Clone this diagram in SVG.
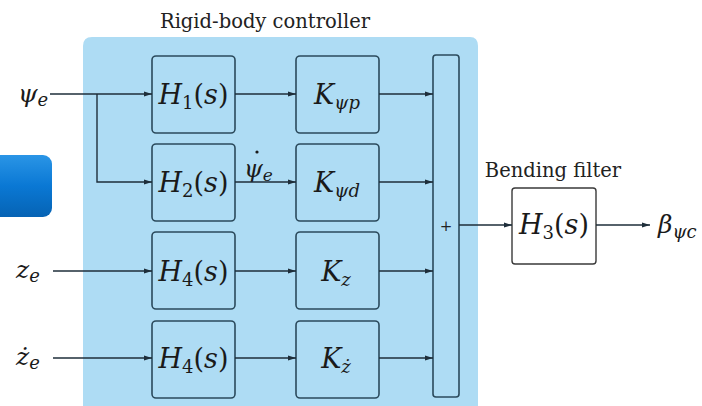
<svg xmlns="http://www.w3.org/2000/svg" width="702" height="406" viewBox="0 0 702 406">
<style>
.blk{fill:#aedcf4;stroke:#2b4a5c;stroke-width:1.6}
.wb{fill:#ffffff;stroke:#3a3a3a;stroke-width:1.4}
.ln{fill:none;stroke:#1e2e3a;stroke-width:1.4}
.m{font-family:'DejaVu Serif','Liberation Serif',serif;font-style:italic;fill:#1a1a1a}
.r{font-style:normal}
.t{font-family:'DejaVu Serif','Liberation Serif',serif;font-size:19.5px;fill:#222}
</style>
<defs>
<marker id="ah" markerWidth="8" markerHeight="6" refX="8" refY="3" orient="auto" markerUnits="userSpaceOnUse">
<path d="M0,0.5 L8,3 L0,5.5 Z" fill="#1e2e3a"/>
</marker>
<linearGradient id="btn" x1="0" y1="0" x2="0" y2="1">
<stop offset="0" stop-color="#2a95e6"/>
<stop offset="0.5" stop-color="#0a78d4"/>
<stop offset="1" stop-color="#0663b4"/>
</linearGradient>
</defs>
<rect width="702" height="406" fill="#ffffff"/>
<g id="panel">
<path d="M83,406 L83,46 Q83,37 92,37 L470,37 Q478,37 478,46 L478,406 Z" fill="#aedcf4"/>
<text class="t" x="265" y="28" text-anchor="middle">Rigid-body controller</text>
</g>
<g id="button">
<rect x="-10" y="155" width="62" height="62" rx="9" fill="url(#btn)"/>
</g>
<g id="H1"><rect class="blk" x="152" y="56" width="83" height="77" rx="4"/>
<text class="m" x="193.5" y="104" font-size="27" text-anchor="middle">H<tspan class="r" font-size="18" dy="5">1</tspan><tspan class="r" dy="-5">(</tspan>s<tspan class="r">)</tspan></text></g>
<g id="H2"><rect class="blk" x="152" y="144" width="83" height="77" rx="4"/>
<text class="m" x="193.5" y="192" font-size="27" text-anchor="middle">H<tspan class="r" font-size="18" dy="5">2</tspan><tspan class="r" dy="-5">(</tspan>s<tspan class="r">)</tspan></text></g>
<g id="H4a"><rect class="blk" x="152" y="232" width="83" height="77" rx="4"/>
<text class="m" x="193.5" y="281" font-size="27" text-anchor="middle">H<tspan class="r" font-size="18" dy="5">4</tspan><tspan class="r" dy="-5">(</tspan>s<tspan class="r">)</tspan></text></g>
<g id="H4b"><rect class="blk" x="152" y="321" width="83" height="77" rx="4"/>
<text class="m" x="193.5" y="368" font-size="27" text-anchor="middle">H<tspan class="r" font-size="18" dy="5">4</tspan><tspan class="r" dy="-5">(</tspan>s<tspan class="r">)</tspan></text></g>
<g id="K1"><rect class="blk" x="296" y="56" width="83" height="77" rx="4"/>
<text class="m" x="337" y="104" font-size="27" text-anchor="middle">K<tspan font-size="18" dy="5">ψp</tspan></text></g>
<g id="K2"><rect class="blk" x="296" y="144" width="83" height="77" rx="4"/>
<text class="m" x="337" y="192" font-size="27" text-anchor="middle">K<tspan font-size="18" dy="5">ψd</tspan></text></g>
<g id="K3"><rect class="blk" x="296" y="232" width="83" height="77" rx="4"/>
<text class="m" x="336" y="281" font-size="27" text-anchor="middle">K<tspan font-size="18" dy="5">z</tspan></text></g>
<g id="K4"><rect class="blk" x="296" y="321" width="83" height="77" rx="4"/>
<text class="m" x="336" y="368" font-size="27" text-anchor="middle">K<tspan font-size="18" dy="5">ż</tspan></text></g>
<g id="sum"><rect class="blk" x="433" y="55" width="26" height="342" rx="3"/>
<text x="446" y="231" font-family="'DejaVu Serif',serif" font-size="15" text-anchor="middle" fill="#222">+</text></g>
<g id="H3"><rect class="wb" x="512" y="188" width="84" height="76" rx="3"/>
<text class="t" x="553" y="177" text-anchor="middle">Bending filter</text>
<text class="m" x="554" y="234" font-size="27" text-anchor="middle">H<tspan class="r" font-size="18" dy="5">3</tspan><tspan class="r" dy="-5">(</tspan>s<tspan class="r">)</tspan></text></g>
<g id="labels">
<text class="m" x="18" y="102" font-size="25">ψ<tspan font-size="18" dy="4">e</tspan></text>
<text class="m" x="16" y="278" font-size="25">z<tspan font-size="18" dy="4">e</tspan></text>
<text class="m" x="16" y="365" font-size="25">ż<tspan font-size="18" dy="4">e</tspan></text>
<text class="m" x="244" y="177" font-size="24">ψ<tspan font-size="17" dy="4">e</tspan></text>
<circle cx="257" cy="152" r="1.6" fill="#1a1a1a"/>
<text class="m" x="658" y="233" font-size="25">β<tspan font-size="18" dy="5">ψc</tspan></text>
</g>
<g id="connectors">
<path class="ln" d="M50,94 H152" marker-end="url(#ah)"/>
<path class="ln" d="M97,94 V182 H152" marker-end="url(#ah)"/>
<path class="ln" d="M53,271 H152" marker-end="url(#ah)"/>
<path class="ln" d="M53,358 H152" marker-end="url(#ah)"/>
<path class="ln" d="M235,94 H296" marker-end="url(#ah)"/>
<path class="ln" d="M235,182 H296" marker-end="url(#ah)"/>
<path class="ln" d="M235,271 H296" marker-end="url(#ah)"/>
<path class="ln" d="M235,358 H296" marker-end="url(#ah)"/>
<path class="ln" d="M379,94 H433" marker-end="url(#ah)"/>
<path class="ln" d="M379,182 H433" marker-end="url(#ah)"/>
<path class="ln" d="M379,271 H433" marker-end="url(#ah)"/>
<path class="ln" d="M379,358 H433" marker-end="url(#ah)"/>
<path class="ln" d="M459,225 H512" marker-end="url(#ah)"/>
<path class="ln" d="M596,225 H650" marker-end="url(#ah)"/>
</g>
</svg>
